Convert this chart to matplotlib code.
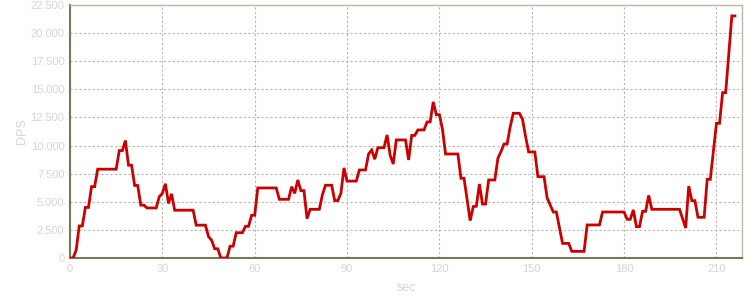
import matplotlib
matplotlib.use("Agg")
import matplotlib.pyplot as plt
from matplotlib.ticker import FuncFormatter, MultipleLocator

# DPS over time (seconds)
sec = [0, 1, 2, 3, 4, 5, 6, 7, 8, 9, 15, 16, 17, 18, 19, 20, 21, 22, 23, 24,
       25, 28, 29, 30, 31, 32, 33, 34, 40, 41, 44, 45, 46, 47, 48, 49, 51, 52,
       53, 54, 56, 57, 58, 59, 60, 61, 67, 68, 71, 72, 73, 74, 75, 76, 77, 78,
       81, 82, 83, 85, 86, 87, 88, 89, 90, 93, 94, 96, 97, 98, 99, 100, 102,
       103, 104, 105, 106, 109, 110, 111, 112, 113, 115, 116, 117, 118, 119,
       120, 121, 122, 126, 127, 128, 130, 131, 132, 133, 134, 135, 136, 138,
       139, 140, 141, 142, 143, 144, 146, 147, 148, 149, 151, 152, 154, 155,
       157, 158, 160, 162, 163, 167, 168, 172, 173, 180, 181, 182, 183, 184,
       185, 186, 187, 188, 189, 198, 200, 201, 202, 203, 204, 206, 207, 208,
       210, 211, 212, 213, 215, 216]
dps = [0, 0, 700, 2850, 2850, 4500, 4500, 6350, 6350, 7900, 7900, 9550, 9550,
       10450, 8250, 8250, 6450, 6450, 4700, 4700, 4450, 4450, 5450, 5750, 6600,
       4850, 5700, 4250, 4250, 2920, 2920, 1900, 1580, 820, 820, 0, 0, 1050,
       1050, 2250, 2250, 2820, 2820, 3800, 3800, 6230, 6230, 5220, 5220, 6340,
       5750, 6940, 5990, 5990, 3500, 4330, 4330, 5630, 6470, 6470, 5100, 5100,
       5750, 8010, 6840, 6840, 7830, 7830, 9250, 9600, 8780, 9810, 9810, 10940,
       9140, 8360, 10500, 10500, 8720, 10900, 10900, 11390, 11390, 12100,
       12100, 13880, 12750, 12750, 11450, 9250, 9250, 7090, 7090, 3320, 4570,
       4600, 6580, 4800, 4800, 6940, 6940, 8870, 9460, 10140, 10140, 11680,
       12870, 12870, 12340, 10790, 9430, 9430, 7230, 7230, 5340, 4090, 4090,
       1300, 1300, 590, 590, 2940, 2940, 4090, 4090, 3440, 3440, 4270, 2790,
       2790, 4150, 4150, 5570, 4330, 4330, 2670, 6400, 5100, 5100, 3620, 3620,
       7000, 7000, 11980, 11980, 14710, 14710, 21530, 21530]

plt.rcParams['font.family'] = ['Liberation Sans', 'DejaVu Sans']

fig = plt.figure(figsize=(7.5, 3), dpi=100)
ax = fig.add_axes([70 / 750, 1 - 258 / 300, 672 / 750, 253 / 300])

ax.plot(sec, dps, color='#cc0000', lw=2, solid_joinstyle='miter', zorder=3)

ax.set_xlim(0, 218.3)
ax.set_ylim(0, 22500)
ax.xaxis.set_major_locator(MultipleLocator(30))
ax.yaxis.set_major_locator(MultipleLocator(2500))
ax.yaxis.set_major_formatter(FuncFormatter(lambda v, p: f'{int(v):,}'.replace(',', '.')))

ax.grid(True, color='#b8b8a8', linestyle=(0, (2, 2)), linewidth=0.8)
ax.set_axisbelow(True)

for s in ['left', 'bottom']:
    ax.spines[s].set_color('#77775c')
    ax.spines[s].set_linewidth(1.5)
for s in ['top', 'right']:
    ax.spines[s].set_color('#b8b8a8')
    ax.spines[s].set_linewidth(1)

ax.tick_params(length=0, labelsize=8, colors='#d6d6d6', pad=4)
ax.set_xlabel('sec', fontsize=9, color='#d6d6d6', labelpad=6)
ax.set_ylabel('DPS', fontsize=9, color='#d6d6d6', labelpad=2)

fig.savefig('out.png', dpi=100)
